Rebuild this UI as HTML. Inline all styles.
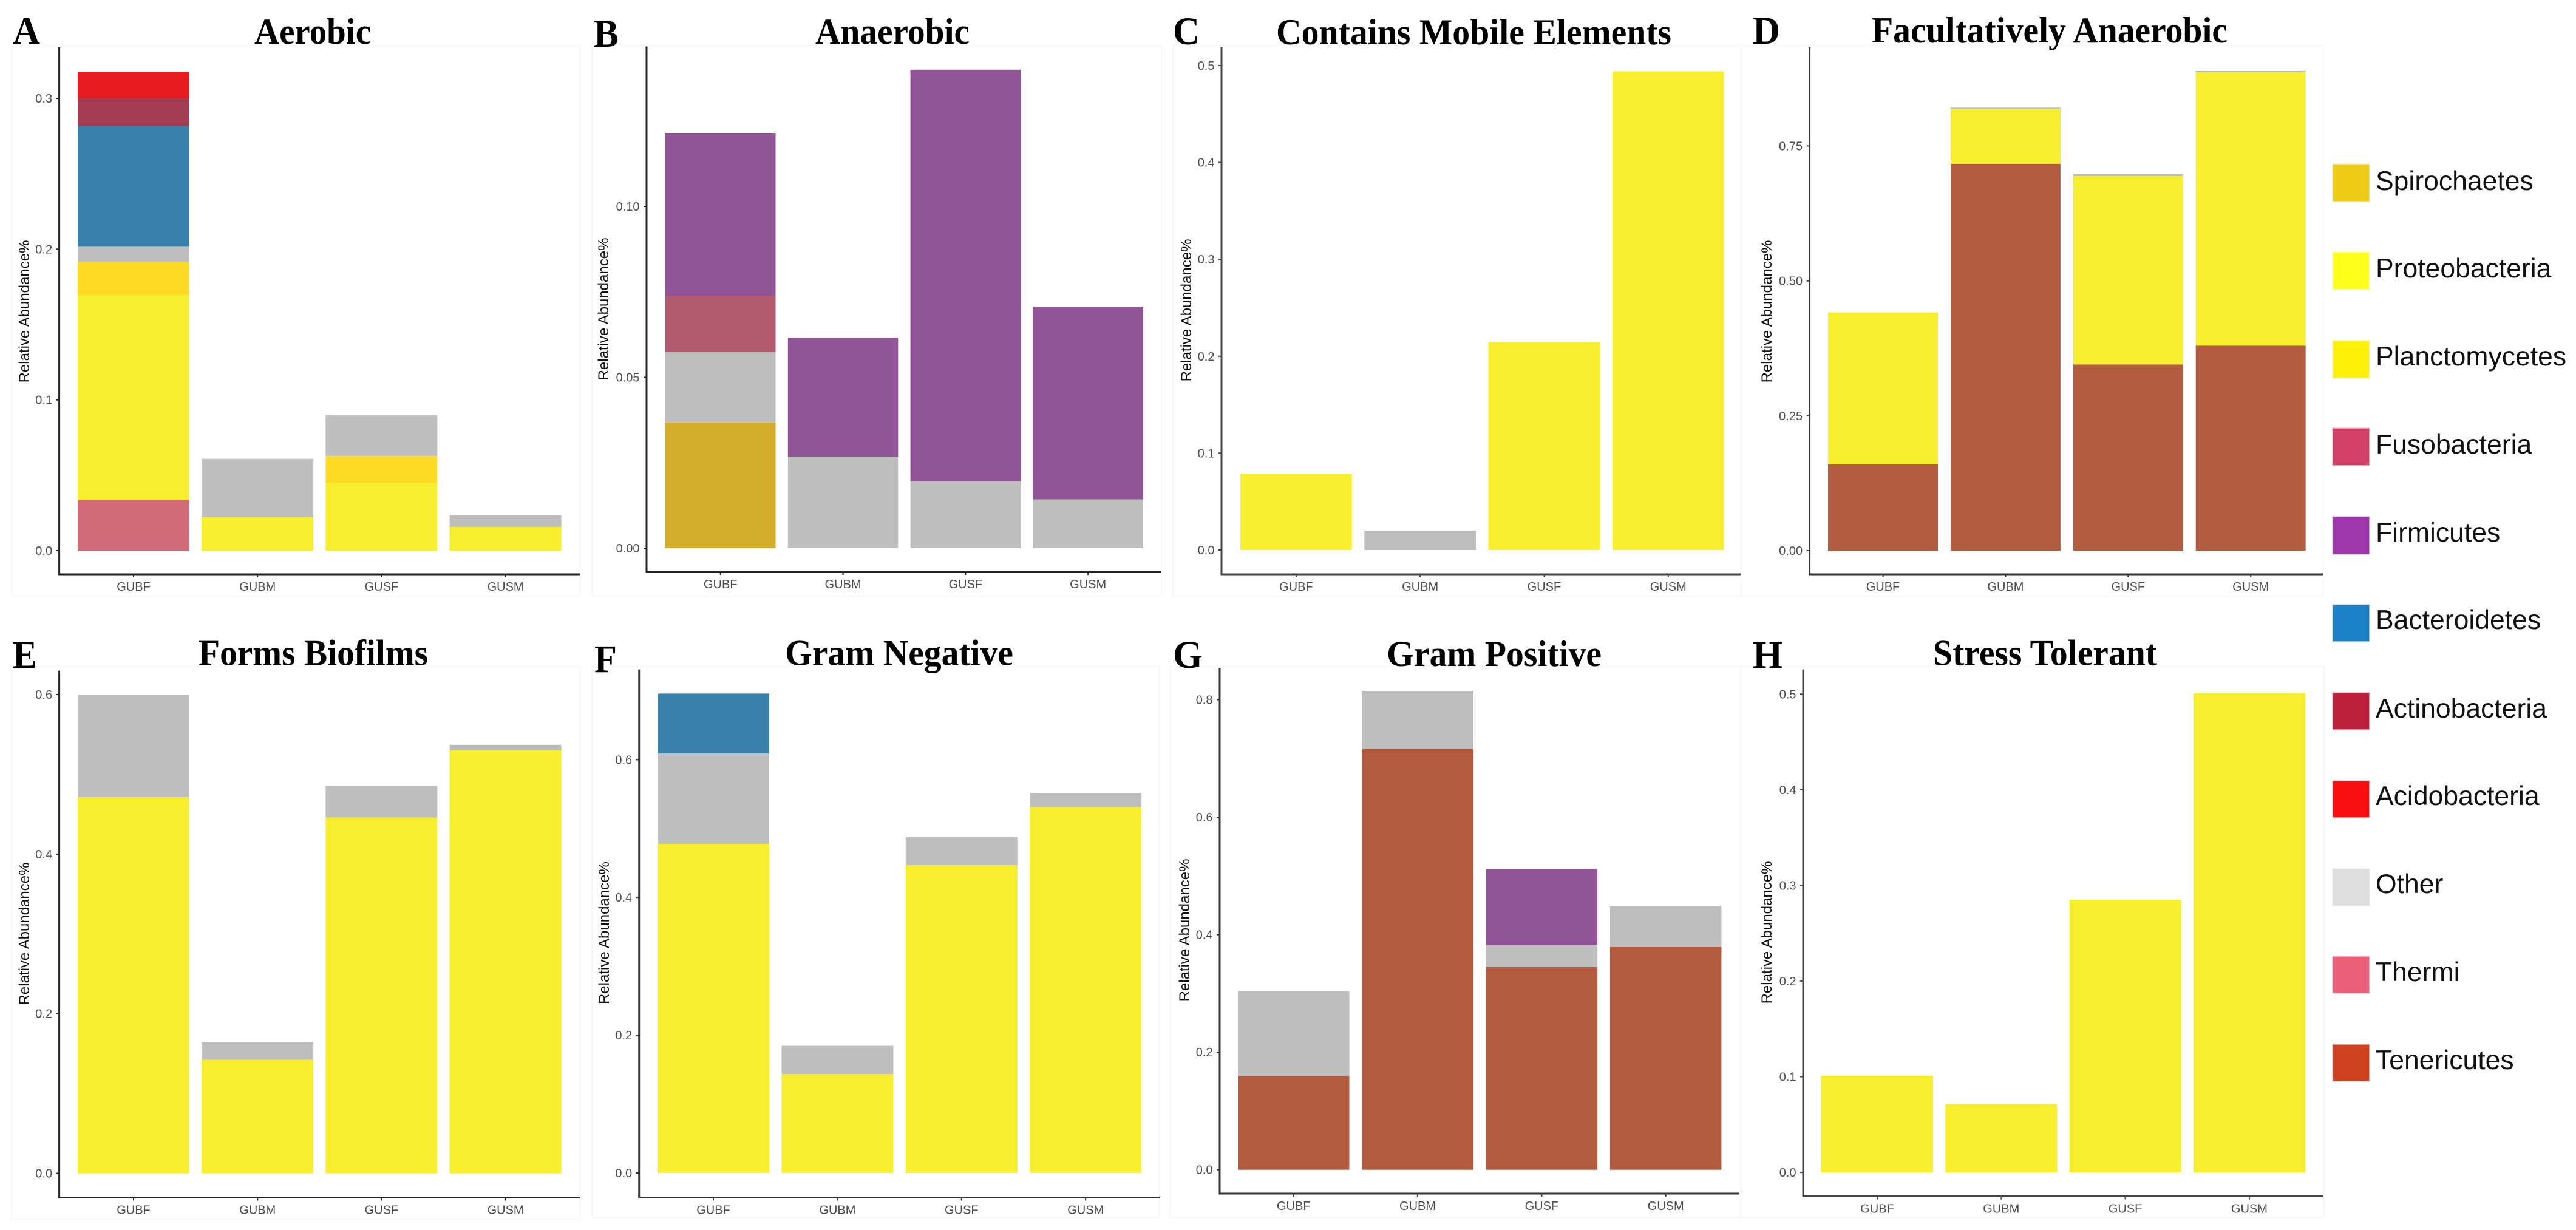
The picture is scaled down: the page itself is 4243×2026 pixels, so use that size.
<!DOCTYPE html>
<html lang="en">
<head>
<meta charset="utf-8">
<title>Relative abundance of bacterial phyla by phenotype</title>
<style>
  html, body { margin: 0; padding: 0; background: #ffffff; }
  body { width: 4243px; height: 2026px; overflow: hidden; }
  svg { display: block; }
  .panel-title { font-family: "Liberation Serif", serif; font-weight: 700; font-size: 60px; fill: #000; }
  .panel-letter { font-family: "Liberation Serif", serif; font-weight: 700; font-size: 65px; fill: #000; }
  .legend-label { font-family: "Liberation Sans", sans-serif; font-size: 44.5px; fill: #111; }
  .tick-label { font-family: "Liberation Sans", sans-serif; font-size: 20px; fill: #4d4d4d; }
  .axis-title { font-family: "Liberation Sans", sans-serif; font-size: 24px; fill: #111; }
</style>
</head>
<body>
<svg id="figure" xmlns="http://www.w3.org/2000/svg" width="4243" height="2026" viewBox="0 0 4243 2026">
  <rect x="0" y="0" width="4243" height="2026" fill="#ffffff"/>
  <g id="charts"></g>

  <g>
    <text class="panel-letter" x="21" y="72" textLength="45" lengthAdjust="spacingAndGlyphs">A</text>
    <text class="panel-letter" x="978" y="77" textLength="41" lengthAdjust="spacingAndGlyphs">B</text>
    <text class="panel-letter" x="1932" y="73" textLength="44" lengthAdjust="spacingAndGlyphs">C</text>
    <text class="panel-letter" x="2887" y="72" textLength="45" lengthAdjust="spacingAndGlyphs">D</text>
    <text class="panel-letter" x="21" y="1100" textLength="40" lengthAdjust="spacingAndGlyphs">E</text>
    <text class="panel-letter" x="979" y="1107" textLength="37" lengthAdjust="spacingAndGlyphs">F</text>
    <text class="panel-letter" x="1932" y="1100" textLength="49" lengthAdjust="spacingAndGlyphs">G</text>
    <text class="panel-letter" x="2887" y="1100" textLength="49" lengthAdjust="spacingAndGlyphs">H</text>
  </g>

  <g>
    <text class="panel-title" x="419" y="72" textLength="192" lengthAdjust="spacingAndGlyphs">Aerobic</text>
    <text class="panel-title" x="1343" y="72" textLength="254" lengthAdjust="spacingAndGlyphs">Anaerobic</text>
    <text class="panel-title" x="2102" y="73" textLength="651" lengthAdjust="spacingAndGlyphs">Contains Mobile Elements</text>
    <text class="panel-title" x="3083" y="70" textLength="586" lengthAdjust="spacingAndGlyphs">Facultatively Anaerobic</text>
    <text class="panel-title" x="327" y="1095.5" textLength="378" lengthAdjust="spacingAndGlyphs">Forms Biofilms</text>
    <text class="panel-title" x="1293" y="1095.5" textLength="376" lengthAdjust="spacingAndGlyphs">Gram Negative</text>
    <text class="panel-title" x="2284" y="1097" textLength="354" lengthAdjust="spacingAndGlyphs">Gram Positive</text>
    <text class="panel-title" x="3184" y="1095.5" textLength="369" lengthAdjust="spacingAndGlyphs">Stress Tolerant</text>
  </g>

  <g>
    <g>
      <rect x="3842" y="270" width="61" height="62" fill="#edcb14" stroke="#f4ecc0" stroke-width="1.5"/>
      <text class="legend-label" x="3913" y="313">Spirochaetes</text>
    </g>
    <g>
      <rect x="3842" y="415" width="61" height="62" fill="#ffff1e" stroke="#fbfbc8" stroke-width="1.5"/>
      <text class="legend-label" x="3913" y="457">Proteobacteria</text>
    </g>
    <g>
      <rect x="3842" y="561" width="61" height="62" fill="#fff00a" stroke="#fbf6c0" stroke-width="1.5"/>
      <text class="legend-label" x="3913" y="602">Planctomycetes</text>
    </g>
    <g>
      <rect x="3842" y="705" width="61" height="62" fill="#d34068" stroke="#eec6d2" stroke-width="1.5"/>
      <text class="legend-label" x="3913" y="747">Fusobacteria</text>
    </g>
    <g>
      <rect x="3842" y="851" width="61" height="62" fill="#9e37ac" stroke="#dfc4e4" stroke-width="1.5"/>
      <text class="legend-label" x="3913" y="892">Firmicutes</text>
    </g>
    <g>
      <rect x="3842" y="996" width="61" height="61" fill="#1c82c8" stroke="#bfdcf0" stroke-width="1.5"/>
      <text class="legend-label" x="3913" y="1036">Bacteroidetes</text>
    </g>
    <g>
      <rect x="3842" y="1141" width="61" height="61" fill="#be203c" stroke="#e8c0c8" stroke-width="1.5"/>
      <text class="legend-label" x="3913" y="1182">Actinobacteria</text>
    </g>
    <g>
      <rect x="3842" y="1286" width="61" height="61" fill="#f90f0f" stroke="#f8c4c4" stroke-width="1.5"/>
      <text class="legend-label" x="3913" y="1326">Acidobacteria</text>
    </g>
    <g>
      <rect x="3842" y="1431" width="61" height="61" fill="#dedede" stroke="#ececec" stroke-width="1.5"/>
      <text class="legend-label" x="3913" y="1471">Other</text>
    </g>
    <g>
      <rect x="3842" y="1575" width="61" height="61" fill="#ec5f78" stroke="#f6ccd4" stroke-width="1.5"/>
      <text class="legend-label" x="3913" y="1616">Thermi</text>
    </g>
    <g>
      <rect x="3842" y="1720" width="61" height="61" fill="#cf4220" stroke="#eec6ba" stroke-width="1.5"/>
      <text class="legend-label" x="3913" y="1761">Tenericutes</text>
    </g>
  </g>
</svg>

<script>
const categories = ['GUBF', 'GUBM', 'GUSF', 'GUSM'];

/* Panel A: Aerobic */
const aerobicTicks = ['0.0', '0.1', '0.2', '0.3'];
const aerobicThermi = [0.0336, 0, 0, 0];
const aerobicProteobacteria = [0.1359, 0.0221, 0.0449, 0.0157];
const aerobicPlanctomycetes = [0.0221, 0, 0.018, 0];
const aerobicOther = [0.01, 0.0388, 0.027, 0.0077];
const aerobicBacteroidetes = [0.08, 0, 0, 0];
const aerobicActinobacteria = [0.0185, 0, 0, 0];
const aerobicAcidobacteria = [0.0175, 0, 0, 0];

/* Panel B: Anaerobic */
const anaerobicTicks = ['0.00', '0.05', '0.10'];
const anaerobicSpirochaetes = [0.0368, 0, 0, 0];
const anaerobicOther = [0.0206, 0.0268, 0.0196, 0.0143];
const anaerobicFusobacteria = [0.0164, 0, 0, 0];
const anaerobicFirmicutes = [0.0477, 0.0348, 0.1204, 0.0564];

/* Panel C: Contains Mobile Elements */
const mobileTicks = ['0.0', '0.1', '0.2', '0.3', '0.4', '0.5'];
const mobileProteobacteria = [0.0787, 0, 0.2145, 0.494];
const mobileOther = [0, 0.02, 0, 0];

/* Panel D: Facultatively Anaerobic */
const facultativeTicks = ['0.00', '0.25', '0.50', '0.75'];
const facultativeTenericutes = [0.16, 0.717, 0.345, 0.38];
const facultativeProteobacteria = [0.2814, 0.102, 0.349, 0.507];
const facultativeOther = [0, 0.002, 0.004, 0.002];

/* Panel E: Forms Biofilms */
const biofilmTicks = ['0.0', '0.2', '0.4', '0.6'];
const biofilmProteobacteria = [0.4715, 0.1424, 0.446, 0.53];
const biofilmOther = [0.1285, 0.0219, 0.0395, 0.007];

/* Panel F: Gram Negative */
const gramNegativeTicks = ['0.0', '0.2', '0.4', '0.6'];
const gramNegativeProteobacteria = [0.4777, 0.1437, 0.447, 0.531];
const gramNegativeOther = [0.1313, 0.0409, 0.0405, 0.02];
const gramNegativeBacteroidetes = [0.087, 0, 0, 0];

/* Panel G: Gram Positive */
const gramPositiveTicks = ['0.0', '0.2', '0.4', '0.6', '0.8'];
const gramPositiveTenericutes = [0.1596, 0.716, 0.345, 0.379];
const gramPositiveOther = [0.1447, 0.099, 0.037, 0.07];
const gramPositiveFirmicutes = [0, 0, 0.13, 0];

/* Panel H: Stress Tolerant */
const stressTicks = ['0.0', '0.1', '0.2', '0.3', '0.4', '0.5'];
const stressProteobacteria = [0.101, 0.0714, 0.285, 0.501];

const fillFor = {
  spirochaetes: '#d4ae2a', proteobacteria: '#f7ee2e', planctomycetes: '#ffda24',
  fusobacteria: '#b25a6e', firmicutes: '#915597', bacteroidetes: '#3a80ad',
  actinobacteria: '#a43c52', acidobacteria: '#e81c1e', other: '#bebebe',
  thermi: '#d16a77', tenericutes: '#b25b3f'
};

const panels = [
  { key: 'aerobic', ticks: aerobicTicks, axisColor: '#222',
    frame: { l: 19, t: 75, r: 955, b: 982 }, axisX: 97.6, axisTop: 78, axisBottom: 946, axisRight: 955,
    y0: 907, yRef: 162, refValue: 0.3, barLeft: 128, barWidth: 184, barStep: 204.2, titleX: 40, titleY: 513,
    series: [['thermi', aerobicThermi], ['proteobacteria', aerobicProteobacteria], ['planctomycetes', aerobicPlanctomycetes],
      ['other', aerobicOther], ['bacteroidetes', aerobicBacteroidetes], ['actinobacteria', aerobicActinobacteria], ['acidobacteria', aerobicAcidobacteria]] },
  { key: 'anaerobic', ticks: anaerobicTicks, axisColor: '#222',
    frame: { l: 975, t: 75, r: 1913, b: 982 }, axisX: 1065, axisTop: 76.5, axisBottom: 942, axisRight: 1912,
    y0: 903, yRef: 340, refValue: 0.1, barLeft: 1096, barWidth: 181.5, barStep: 201.8, titleX: 994, titleY: 509,
    series: [['spirochaetes', anaerobicSpirochaetes], ['other', anaerobicOther], ['fusobacteria', anaerobicFusobacteria], ['firmicutes', anaerobicFirmicutes]] },
  { key: 'mobile', ticks: mobileTicks, axisColor: '#444',
    frame: { l: 1932, t: 75, r: 2869, b: 982 }, axisX: 2012, axisTop: 78, axisBottom: 946, axisRight: 2869,
    y0: 906, yRef: 108, refValue: 0.5, barLeft: 2043, barWidth: 183.7, barStep: 204.3, titleX: 1954, titleY: 511,
    series: [['proteobacteria', mobileProteobacteria], ['other', mobileOther]] },
  { key: 'facultative', ticks: facultativeTicks, axisColor: '#333',
    frame: { l: 2868, t: 75, r: 3826, b: 982 }, axisX: 2980.6, axisTop: 78, axisBottom: 946, axisRight: 3826,
    y0: 907, yRef: 240.4, refValue: 0.75, barLeft: 3011, barWidth: 181, barStep: 201.9, titleX: 2910, titleY: 513,
    series: [['tenericutes', facultativeTenericutes], ['proteobacteria', facultativeProteobacteria], ['other', facultativeOther]] },
  { key: 'biofilm', ticks: biofilmTicks, axisColor: '#222',
    frame: { l: 19, t: 1098, r: 955, b: 2008 }, axisX: 97.6, axisTop: 1104.7, axisBottom: 1972.5, axisRight: 955,
    y0: 1932.6, yRef: 1144, refValue: 0.6, barLeft: 128, barWidth: 184, barStep: 204.2, titleX: 40, titleY: 1538,
    series: [['proteobacteria', biofilmProteobacteria], ['other', biofilmOther]] },
  { key: 'gram-negative', ticks: gramNegativeTicks, axisColor: '#333',
    frame: { l: 975, t: 1098, r: 1910, b: 2005 }, axisX: 1052.7, axisTop: 1102.7, axisBottom: 1972.5, axisRight: 1910,
    y0: 1932, yRef: 1251.3, refValue: 0.6, barLeft: 1083, barWidth: 184, barStep: 204.4, titleX: 995, titleY: 1536.6,
    series: [['proteobacteria', gramNegativeProteobacteria], ['other', gramNegativeOther], ['bacteroidetes', gramNegativeBacteroidetes]] },
  { key: 'gram-positive', ticks: gramPositiveTicks, axisColor: '#333',
    frame: { l: 1928, t: 1098, r: 2867, b: 2005 }, axisX: 2009, axisTop: 1100, axisBottom: 1966, axisRight: 2865,
    y0: 1926.7, yRef: 1152.5, refValue: 0.8, barLeft: 2039, barWidth: 183.5, barStep: 204.3, titleX: 1951, titleY: 1532,
    series: [['tenericutes', gramPositiveTenericutes], ['other', gramPositiveOther], ['firmicutes', gramPositiveFirmicutes]] },
  { key: 'stress', ticks: stressTicks, axisColor: '#444',
    frame: { l: 2868, t: 1098, r: 3828, b: 2005 }, axisX: 2970, axisTop: 1102.7, axisBottom: 1970.5, axisRight: 3826,
    y0: 1931, yRef: 1143.3, refValue: 0.5, barLeft: 3000, barWidth: 184, barStep: 204.3, titleX: 2910, titleY: 1536,
    series: [['proteobacteria', stressProteobacteria]] }
];

const SVGNS = 'http://www.w3.org/2000/svg';
const root = document.getElementById('charts');

function make(tag, parent, attrs) {
  const node = document.createElementNS(SVGNS, tag);
  for (const k in attrs) node.setAttribute(k, attrs[k]);
  parent.appendChild(node);
  return node;
}

panels.forEach(function (p) {
  const yScale = function (v) { return p.y0 - (v / p.refValue) * (p.y0 - p.yRef); };
  const xBand = function (i) { return p.barLeft + i * p.barStep; };

  const g = make('g', root, {});
  
  

  const frame = make('rect', g, { x: p.frame.l, y: p.frame.t, width: p.frame.r - p.frame.l, height: p.frame.b - p.frame.t, fill: '#ffffff', stroke: '#f6f6f6', 'stroke-width': 1.5 });
  
  

  categories.forEach(function (cat, i) {
    let running = 0;
    p.series.forEach(function (s) {
      const v = s[1][i];
      if (v <= 0) return;
      const top = yScale(running + v);
      const bottom = yScale(running);
      const rect = make('rect', g, { x: xBand(i), y: top, width: p.barWidth, height: bottom - top, fill: fillFor[s[0]] });
      
      
      running += v;
    });

    const cx = xBand(i) + p.barWidth / 2;
    const xTick = make('line', g, { x1: cx, x2: cx, y1: p.axisBottom, y2: p.axisBottom + 5, stroke: p.axisColor, 'stroke-width': 2 });
    
    

    const xLabel = make('text', g, { x: cx, y: p.axisBottom + 27, 'text-anchor': 'middle', class: 'tick-label' });
    xLabel.textContent = cat;
    
    
  });

  p.ticks.forEach(function (label) {
    const ty = yScale(Number(label));
    const yTick = make('line', g, { x1: p.axisX - 5, x2: p.axisX, y1: ty, y2: ty, stroke: p.axisColor, 'stroke-width': 2 });
    
    

    const yLabel = make('text', g, { x: p.axisX - 11.5, y: ty + 7, 'text-anchor': 'end', class: 'tick-label' });
    yLabel.textContent = label;
    
    
  });

  const yAxis = make('line', g, { x1: p.axisX, x2: p.axisX, y1: p.axisTop, y2: p.axisBottom + 1.5, stroke: p.axisColor, 'stroke-width': 3 });
  
  

  const xAxis = make('line', g, { x1: p.axisX, x2: p.axisRight, y1: p.axisBottom, y2: p.axisBottom, stroke: p.axisColor, 'stroke-width': 3 });
  
  

  const yTitle = make('text', g, { x: 0, y: 0, 'text-anchor': 'middle', class: 'axis-title', transform: 'translate(' + (p.titleX + 8) + ' ' + p.titleY + ') rotate(-90)' });
  yTitle.textContent = 'Relative Abundance%';
  
  
});
</script>
</body>
</html>
